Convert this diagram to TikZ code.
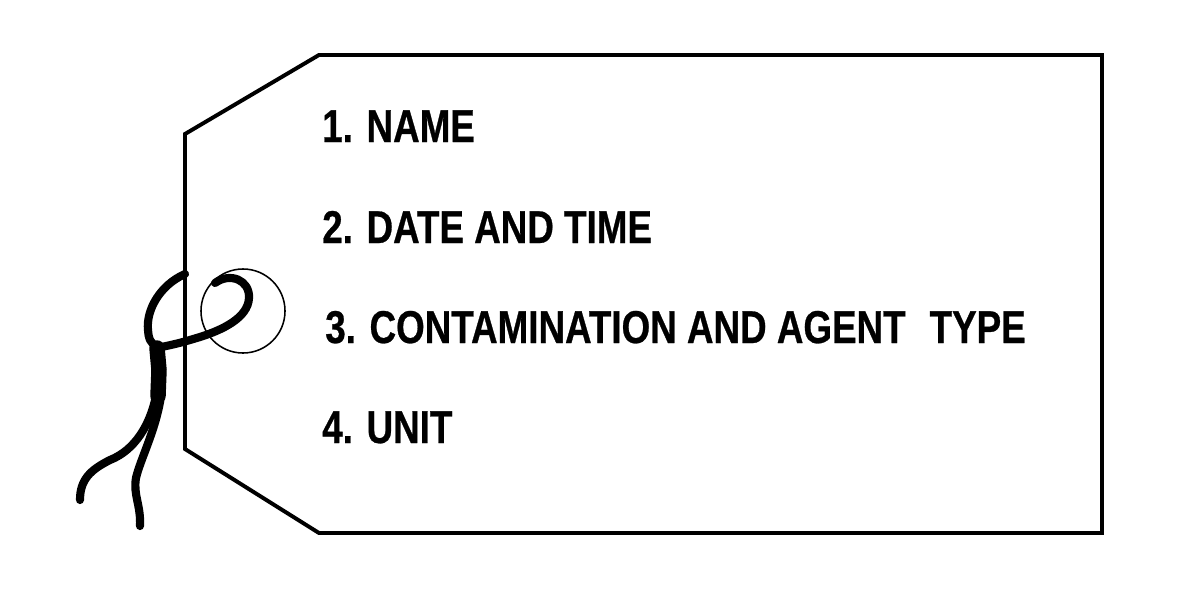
\documentclass[tikz,border=0pt]{standalone}
\usepackage{fontspec}
\newfontfamily\tagfont[FakeStretch=0.8, FakeBold=0.6]{Liberation Sans Bold}
\tikzset{
    tagline/.style={line width=2.8pt, line join=miter},
    cord/.style={line width=5.8pt, line cap=round, line join=round},
    entry/.style={anchor=base west, inner sep=0pt, font=\tagfont\fontsize{32.7}{36}\selectfont}
}

\begin{document}
\begin{tikzpicture}[x=0.025cm, y=-0.025cm]
    \useasboundingbox (0,0) rectangle (1200,604);
    % tag outline and hole
    \draw[tagline] (185,134)--(319,55)--(1102,55)--(1102,533)--(319,533)--(185,449)--cycle;
    \node[draw, circle, line width=1.1pt, inner sep=0pt, minimum size=2.1cm] (hole) at (243,311){};
    % entries
    \node[entry] (n1) at (322,142){1. NAME};
    \node[entry] (n2) at (322,243){2. DATE AND TIME};
    \node[entry] (n3) at (325,343){3. CONTAMINATION AND AGENT\hspace{0.3em} TYPE};
    \node[entry] (n4) at (322,443){4. UNIT};
    % string through the hole
    \coordinate (knot) at (157,348);
    \draw[cord] (185,274) .. controls (160,285) and (146,310) .. (148,330) .. controls (149,340) .. (knot);
    \draw[cord] (215,283) .. controls (230,272) and (250,280) .. (249,298)
        .. controls (248,318) and (222,330) .. (200,337) .. controls (180,343) .. (knot);
    \draw[line width=11pt, line cap=round] (knot)--(159,370)--(158,396);
    \draw[cord] (156,396) .. controls (150,425) and (135,450) .. (110,460)
        .. controls (90,470) and (80,480) .. (80,500);
    \draw[cord] (161,396) .. controls (156,430) and (140,460) .. (136,478)
        .. controls (133,495) and (141,505) .. (140,526);
\end{tikzpicture}
\end{document}
